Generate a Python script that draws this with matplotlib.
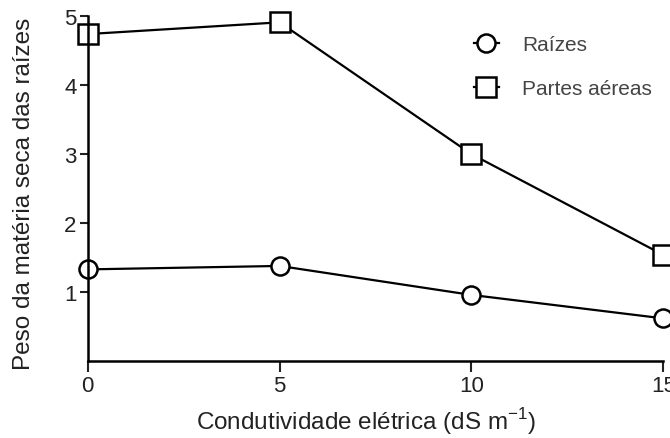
import matplotlib.pyplot as plt

plt.rcParams['font.family'] = ['Liberation Sans', 'DejaVu Sans']

# data
condutividade = [0, 5, 10, 15]
raizes = [1.33, 1.38, 0.96, 0.62]
partes_aereas = [4.74, 4.91, 3.0, 1.54]

fig = plt.figure(figsize=(6.7, 4.39), dpi=100)
ax = fig.add_axes([0.131, 0.175, 0.859, 0.786])

ax.plot(condutividade, raizes, color='black', linewidth=1.6, marker='o',
        markersize=13, markerfacecolor='white', markeredgewidth=1.8,
        label='Raízes', clip_on=False)
ax.plot(condutividade, partes_aereas, color='black', linewidth=1.6, marker='s',
        markersize=15, markerfacecolor='white', markeredgewidth=1.8,
        label='Partes aéreas', clip_on=False)

ax.set_xlim(0, 15)
ax.set_ylim(0, 5)
ax.set_xticks([0, 5, 10, 15])
ax.set_yticks([1, 2, 3, 4, 5])

for side in ['top', 'right']:
    ax.spines[side].set_visible(False)
for side in ['left', 'bottom']:
    ax.spines[side].set_linewidth(1.8)

ax.tick_params(axis='x', direction='out', length=8, width=1.5, labelsize=16, pad=2, colors='#222222')
ax.tick_params(axis='y', direction='out', length=6, width=1.5, labelsize=16, pad=2, colors='#222222')

ax.set_xlabel('Condutividade elétrica (dS m$^{\\mathregular{-1}}$)', fontsize=17.5, color='#222222')
ax.xaxis.set_label_coords(0.483, -0.128)
ax.set_ylabel('Peso da matéria seca das raízes', fontsize=17.5, color='#222222')
ax.yaxis.set_label_coords(-0.092, 0.487)

ax.legend(loc='upper left', bbox_to_anchor=(0.671, 0.945), frameon=False, fontsize=15,
          handlelength=1.2, labelspacing=1.2, handletextpad=1.1, borderpad=0,
          borderaxespad=0, labelcolor='#444444')

plt.savefig('out.png', dpi=100)
